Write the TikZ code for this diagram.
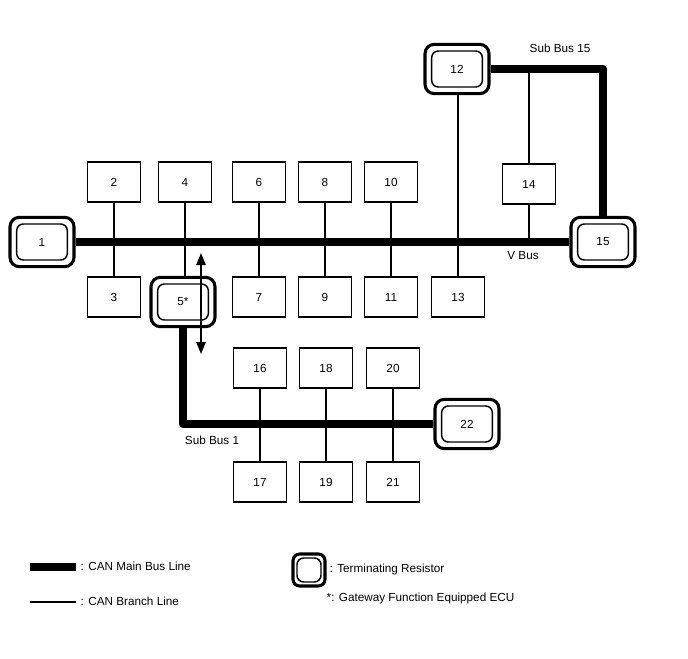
\documentclass[tikz,border=0pt]{standalone}
\usepackage{fontspec}
\setmainfont{Liberation Sans}
\usetikzlibrary{calc,arrows.meta}

\tikzset{
  term inset/.store in=\termInset, term inset=5pt,
  ecu/.style={draw, line width=1.2pt, minimum width=40pt, minimum height=30pt, inner sep=0pt},
  termres/.style={draw, line width=2.3pt, rounded corners=7pt, minimum width=48pt,
    minimum height=37pt, inner sep=0pt,
    path picture={\draw[line width=1.1pt, rounded corners=5pt]
      ($(path picture bounding box.north west)+(\termInset,-\termInset)$) rectangle
      ($(path picture bounding box.south east)+(-\termInset,\termInset)$);}},
  mainbus/.style={line width=6.5pt},
  branch/.style={line width=1.5pt}
}

\begin{document}
\begin{tikzpicture}[x=0.75pt, y=-0.75pt, font=\fontsize{8.8pt}{10pt}\selectfont]
  \useasboundingbox (0,0) rectangle (688,658);

  % ECUs on the V bus
  \node[termres] (n1) at (42,242) {1};
  \node[termres] (n15) at (603,242) {15};
  \node[termres] (n12) at (457,69) {12};
  \node[ecu] (n2) at (114,182) {2};
  \node[ecu] (n3) at (114,297) {3};
  \node[ecu] (n4) at (185,182) {4};
  \node[termres] (n5) at (183,302) {5*};
  \node[ecu] (n6) at (259,182) {6};
  \node[ecu] (n7) at (259,297) {7};
  \node[ecu] (n8) at (325,182) {8};
  \node[ecu] (n9) at (325,297) {9};
  \node[ecu] (n10) at (391,182) {10};
  \node[ecu] (n11) at (391,297) {11};
  \node[ecu] (n13) at (458,297) {13};
  \node[ecu] (n14) at (529,184) {14};

  % ECUs on sub bus 1
  \node[ecu] (n16) at (260,368) {16};
  \node[ecu] (n17) at (260,482) {17};
  \node[ecu] (n18) at (326,368) {18};
  \node[ecu] (n19) at (326,482) {19};
  \node[ecu] (n20) at (393,368) {20};
  \node[ecu] (n21) at (393,482) {21};
  \node[termres] (n22) at (467,424) {22};

  % main bus lines
  \draw[mainbus] (n1.east) -- (n15.west);
  \draw[mainbus, line join=round] (n12.east) -- (n12.east -| n15) -- (n15.north);
  \draw[mainbus, line join=round] (n5.south) -- (n5.south |- n22.west) -- (n22.west);

  % branch lines
  \draw[branch] (n2.south) -- (n3.north);
  \draw[branch] (n4.south) -- (n4.south |- n5.north);
  \draw[branch] (n6.south) -- (n7.north);
  \draw[branch] (n8.south) -- (n9.north);
  \draw[branch] (n10.south) -- (n11.north);
  \draw[branch] (n12.south -| n13) -- (n13.north);
  \draw[branch] (n14.north) -- (n14.north |- n12.east);
  \draw[branch] (n14.south) -- (n14.south |- n15.west);
  \draw[branch] (n16.south) -- (n17.north);
  \draw[branch] (n18.south) -- (n19.north);
  \draw[branch] (n20.south) -- (n21.north);

  % gateway arrow
  \coordinate (gwtop) at (201,253);
  \coordinate (gwbot) at (201,354);
  \draw[line width=1.3pt, {Triangle[length=9pt,width=7pt]}-{Triangle[length=9pt,width=7pt]}] (gwtop) -- (gwbot);

  % bus names
  \node (lsub15) at (560,48) {Sub Bus 15};
  \node (lvbus) at (523,256) {V Bus};
  \node (lsub1) at (212,440) {Sub Bus 1};

  % legend
  \draw[mainbus] (30,567) -- (76,567);
  \node[anchor=west] (lmain) at (76,566) {: CAN Main Bus Line};
  \draw[branch] (30,602) -- (76,602);
  \node[anchor=west] (lbranch) at (76,601) {: CAN Branch Line};
  \node[termres, term inset=3pt, rounded corners=5pt, minimum width=24pt, minimum height=24pt] (legterm) at (309,570) {};
  \node[anchor=west] (lterm) at (325,569) {: Terminating Resistor};
  \node[anchor=west] (lgw) at (322,598) {*: Gateway Function Equipped ECU};
\end{tikzpicture}
\end{document}
